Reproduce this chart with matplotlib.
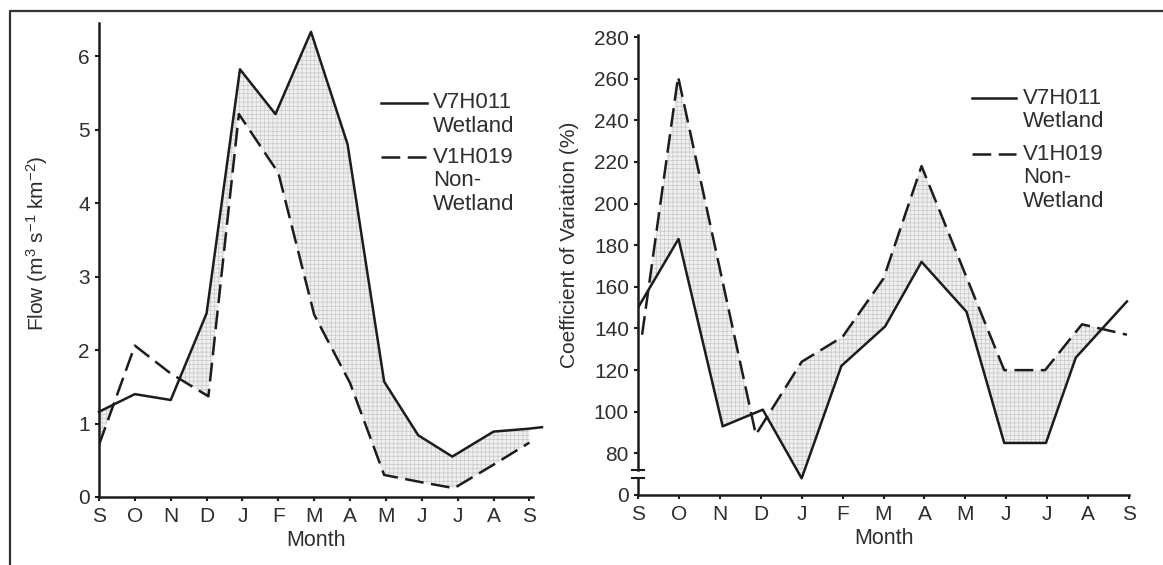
import numpy as np
import matplotlib
matplotlib.use('Agg')
from matplotlib import pyplot as plt
from matplotlib.lines import Line2D

plt.rcParams['font.family'] = ['Liberation Sans', 'DejaVu Sans']
plt.rcParams['mathtext.fontset'] = 'custom'
plt.rcParams['mathtext.rm'] = 'Liberation Sans'
plt.rcParams['mathtext.default'] = 'regular'
plt.rcParams['hatch.linewidth'] = 0.5
plt.rcParams['hatch.color'] = '#c4c4c4'

months = ['S', 'O', 'N', 'D', 'J', 'F', 'M', 'A', 'M', 'J', 'J', 'A', 'S']

# left panel: flow
flow_wet_x = [0, 1, 2, 3, 3.93, 4.92, 5.91, 6.93, 7.95, 8.9, 9.85, 11, 12, 12.35]
flow_wet = [1.16, 1.40, 1.32, 2.50, 5.82, 5.21, 6.33, 4.80, 1.57, 0.84, 0.55, 0.89, 0.93, 0.95]
flow_non_x = [0, 1, 2, 3.05, 3.9, 5, 6, 7, 7.95, 9, 9.9, 11, 12]
flow_non = [0.71, 2.06, 1.68, 1.37, 5.21, 4.41, 2.48, 1.55, 0.30, 0.20, 0.12, 0.44, 0.74]

# right panel: coefficient of variation (axis broken below 80, "0" drawn at 60)
cv_wet_x = [0, 0.99, 2.07, 3.05, 4.0, 4.97, 6.04, 6.93, 8.03, 8.95, 9.97, 10.7, 11.95]
cv_wet = [150, 183, 93, 101, 68, 122, 141, 172, 148, 85, 85, 126, 153]
cv_non_x = [0.1, 0.98, 2.88, 4.0, 5.0, 6.0, 6.93, 8.0, 8.95, 9.95, 10.85, 11.95]
cv_non = [137, 261, 89, 124, 136, 164, 218, 166, 120, 120, 142, 137]
cv_ticks = [60, 80, 100, 120, 140, 160, 180, 200, 220, 240, 260, 280]
cv_ticklabels = ['0', '80', '100', '120', '140', '160', '180', '200', '220', '240', '260', '280']

ink = '#1c1c1c'
txt = '#2e2e2e'
fs = 15
dash = (0, (7.5, 3))

fig = plt.figure(figsize=(11.63, 5.65), dpi=100)
fig.patch.set_facecolor('white')

# frame round the figure (open at right and bottom)
fig.add_artist(Line2D([10 / 1163, 10 / 1163, 1.0], [0.0, 1 - 11 / 565, 1 - 11 / 565],
                      transform=fig.transFigure, color='#333333', lw=1.6))

ax1 = fig.add_axes([99 / 1163, 1 - 497 / 565, 434 / 1163, 474 / 565])
ax2 = fig.add_axes([638 / 1163, 1 - 495 / 565, 491 / 1163, 460 / 565])


def style(ax):
    for s in ['top', 'right']:
        ax.spines[s].set_visible(False)
    for s in ['left', 'bottom']:
        ax.spines[s].set_linewidth(1.8)
        ax.spines[s].set_color(ink)
    ax.tick_params(direction='out', length=3, width=1.5, color=ink,
                   labelsize=fs, labelcolor=txt)
    ax.tick_params(axis='x', pad=4)
    ax.tick_params(axis='y', pad=3.5)
    ax.set_xticks(range(13))
    ax.set_xticklabels(months)
    ax.set_xlabel('Month', fontsize=15.5, color=txt, labelpad=3)


def shade(ax, xa, ya, xb, yb, upper):
    xs = np.linspace(max(xa[0], xb[0]), min(xa[-1], xb[-1]), 800)
    a = np.interp(xs, xa, ya)
    b = np.interp(xs, xb, yb)
    where = a >= b if upper == 'a' else b >= a
    ax.fill_between(xs, a, b, where=where, interpolate=True,
                    facecolor='#f0f0f0', edgecolor='#c8c8c8', hatch='++++', lw=0, zorder=1)


def legend(ax, x0, x1, y1, y2, dy):
    ax.plot([x0, x1], [y1, y1], color=ink, lw=1.8, transform=ax.transAxes, clip_on=False)
    ax.plot([x0, x1], [y2, y2], color=ink, lw=1.8, ls=dash, transform=ax.transAxes, clip_on=False)
    tx = x1 + 0.014
    for i, s in enumerate(['V7H011', 'Wetland']):
        ax.text(tx, y1 - i * dy, s, transform=ax.transAxes, fontsize=16, color=txt,
                va='center', ha='left')
    for i, s in enumerate(['V1H019', 'Non-', 'Wetland']):
        ax.text(tx, y2 - i * dy, s, transform=ax.transAxes, fontsize=16, color=txt,
                va='center', ha='left')


# ---- left ----
style(ax1)
shade(ax1, flow_wet_x, flow_wet, flow_non_x, flow_non, 'a')
ax1.plot(flow_wet_x, flow_wet, color=ink, lw=1.8, zorder=3, clip_on=False)
ax1.plot(flow_non_x, flow_non, color=ink, lw=1.8, ls=dash, zorder=3)
ax1.set_xlim(0, 12.1)
ax1.set_ylim(0, 6.45)
ax1.set_yticks([0, 1, 2, 3, 4, 5, 6])
ax1.set_ylabel('Flow (m$^3$ s$^{-1}$ km$^{-2}$)', fontsize=fs, color=txt)
ax1.yaxis.set_label_coords(-0.112, 0.535)
legend(ax1, 0.65, 0.755, 0.832, 0.717, 0.0496)

# ---- right ----
style(ax2)
shade(ax2, cv_wet_x, cv_wet, cv_non_x, cv_non, 'b')
ax2.plot(cv_wet_x, cv_wet, color=ink, lw=1.8, zorder=3)
ax2.plot(cv_non_x, cv_non, color=ink, lw=1.8, ls=dash, zorder=3)
ax2.set_xlim(0, 12)
ax2.set_ylim(60, 281)
ax2.set_yticks(cv_ticks)
ax2.set_yticklabels(cv_ticklabels)
ax2.spines['left'].set_bounds(71.8, 281)
ax2.plot([0, 0], [60, 68.3], color=ink, lw=1.8, clip_on=False, zorder=4)
for yb in [71.8, 68.3]:
    ax2.plot([-0.14, 0.14], [yb, yb], color=ink, lw=1.5, clip_on=False, zorder=4)
ax2.set_ylabel('Coefficient of Variation (%)', fontsize=fs, color=txt)
ax2.yaxis.set_label_coords(-0.12, 0.543)
legend(ax2, 0.681, 0.770, 0.863, 0.741, 0.0511)

fig.savefig('out.png', dpi=100, facecolor='white')
